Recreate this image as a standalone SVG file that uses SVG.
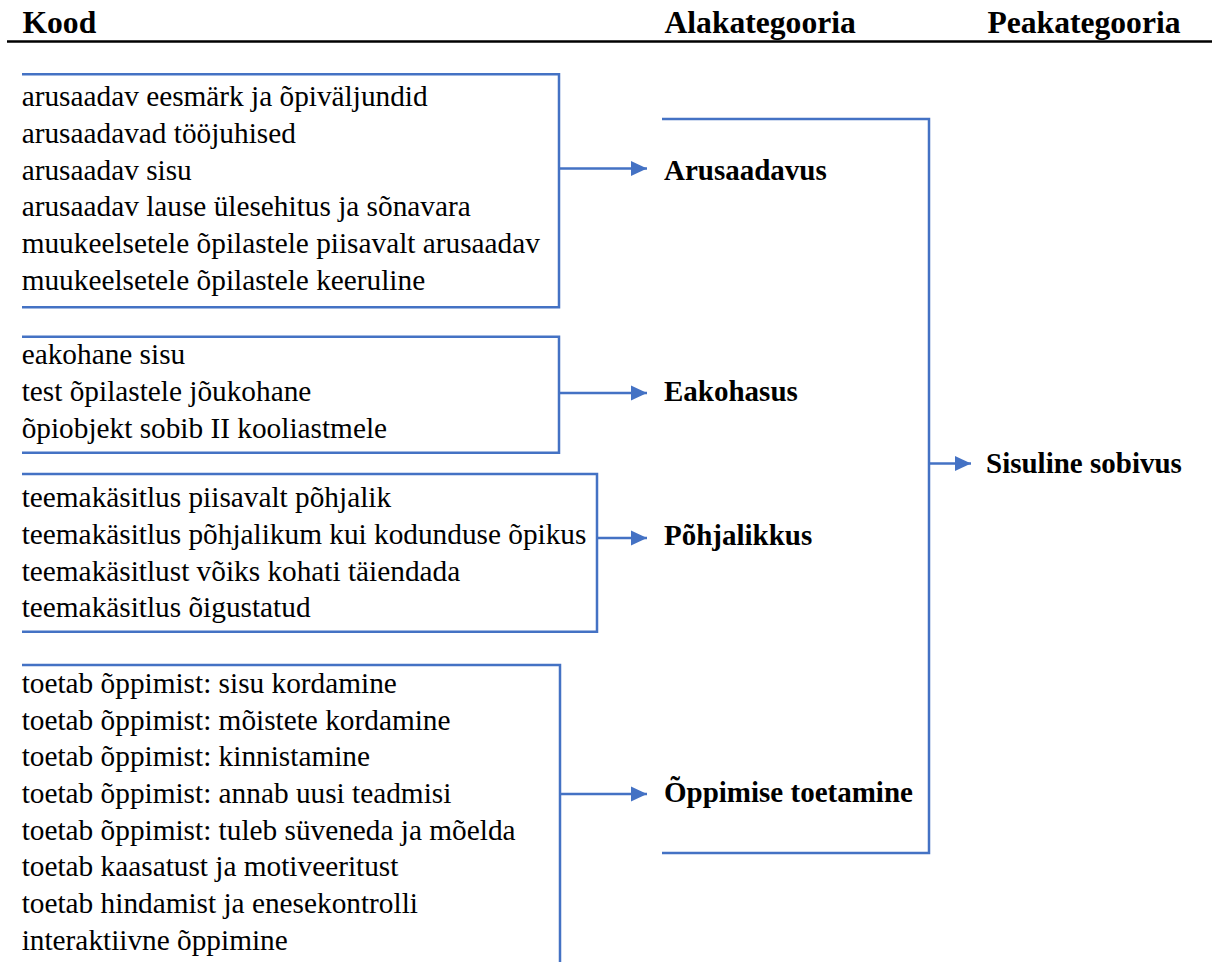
<svg xmlns="http://www.w3.org/2000/svg" width="1212" height="962" viewBox="0 0 1212 962">
<style>
.hdr{font-family:'Liberation Serif','Tinos','Times New Roman','Times','Noto Serif','DejaVu Serif',serif;font-weight:bold;font-size:31.6px;fill:#000}
.code{font-family:'Liberation Serif','Tinos','Times New Roman','Times','Noto Serif','DejaVu Serif',serif;font-size:29.3px;fill:#000}
.cat{font-family:'Liberation Serif','Tinos','Times New Roman','Times','Noto Serif','DejaVu Serif',serif;font-weight:bold;font-size:29px;fill:#000}
.br{fill:none;stroke:#4472C4;stroke-width:2.5}
.ar{fill:none;stroke:#4472C4;stroke-width:2.5;marker-end:url(#ah)}
</style>
<defs>
<marker id="ah" markerUnits="userSpaceOnUse" markerWidth="16" markerHeight="16" refX="16" refY="8" orient="auto">
<path d="M0,0.5 L16,8 L0,15.5 z" fill="#4472C4"/>
</marker>
</defs>
<rect width="1212" height="962" fill="#fff"/>
<g id="header">
<text class="hdr" x="22.5" y="33.3">Kood</text>
<text class="hdr" x="664.5" y="33.3">Alakategooria</text>
<text class="hdr" x="987.5" y="33.3">Peakategooria</text>
<line x1="7" y1="41.5" x2="1212" y2="41.5" stroke="#000" stroke-width="2.5"/>
</g>
<g id="codes-arusaadavus">
<text class="code" x="21.7" y="106.2">arusaadav eesmärk ja õpiväljundid</text>
<text class="code" x="21.7" y="142.9">arusaadavad tööjuhised</text>
<text class="code" x="21.7" y="179.6">arusaadav sisu</text>
<text class="code" x="21.7" y="216.3">arusaadav lause ülesehitus ja sõnavara</text>
<text class="code" x="21.7" y="253">muukeelsetele õpilastele piisavalt arusaadav</text>
<text class="code" x="21.7" y="289.7">muukeelsetele õpilastele keeruline</text>
</g>
<g id="codes-eakohasus">
<text class="code" x="21.7" y="363.8">eakohane sisu</text>
<text class="code" x="21.7" y="400.5">test õpilastele jõukohane</text>
<text class="code" x="21.7" y="437.8">õpiobjekt sobib II kooliastmele</text>
</g>
<g id="codes-pohjalikkus">
<text class="code" x="21.7" y="507.2">teemakäsitlus piisavalt põhjalik</text>
<text class="code" x="21.7" y="543.9">teemakäsitlus põhjalikum kui kodunduse õpikus</text>
<text class="code" x="21.7" y="580.6">teemakäsitlust võiks kohati täiendada</text>
<text class="code" x="21.7" y="617.3">teemakäsitlus õigustatud</text>
</g>
<g id="codes-oppimise">
<text class="code" x="21.7" y="692.8">toetab õppimist: sisu kordamine</text>
<text class="code" x="21.7" y="729.5">toetab õppimist: mõistete kordamine</text>
<text class="code" x="21.7" y="766.2">toetab õppimist: kinnistamine</text>
<text class="code" x="21.7" y="802.9">toetab õppimist: annab uusi teadmisi</text>
<text class="code" x="21.7" y="839.6">toetab õppimist: tuleb süveneda ja mõelda</text>
<text class="code" x="21.7" y="876.3">toetab kaasatust ja motiveeritust</text>
<text class="code" x="21.7" y="913">toetab hindamist ja enesekontrolli</text>
<text class="code" x="21.7" y="949.7">interaktiivne õppimine</text>
</g>
<g id="cat-arusaadavus"><text class="cat" x="664" y="180">Arusaadavus</text></g>
<g id="cat-eakohasus"><text class="cat" x="664" y="401">Eakohasus</text></g>
<g id="cat-pohjalikkus"><text class="cat" x="664" y="545">Põhjalikkus</text></g>
<g id="cat-oppimise"><text class="cat" x="664" y="802">Õppimise toetamine</text></g>
<g id="main-sisuline"><text class="cat" x="986" y="473.3">Sisuline sobivus</text></g>
<g id="connectors">
<path class="br" d="M22,74.3 H559 V307.3 H22"/>
<path class="br" d="M22,336.7 H559 V452.7 H22"/>
<path class="br" d="M22,474 H597 V631.7 H22"/>
<path class="br" d="M22,665 H560 V962"/>
<path class="br" d="M662,119 H929 V853 H662"/>
<line class="ar" x1="559" y1="168.5" x2="647" y2="168.5"/>
<line class="ar" x1="559" y1="393" x2="647" y2="393"/>
<line class="ar" x1="597" y1="538" x2="647" y2="538"/>
<line class="ar" x1="560" y1="794" x2="647" y2="794"/>
<line class="ar" x1="929" y1="463.5" x2="971" y2="463.5"/>
</g>
</svg>
